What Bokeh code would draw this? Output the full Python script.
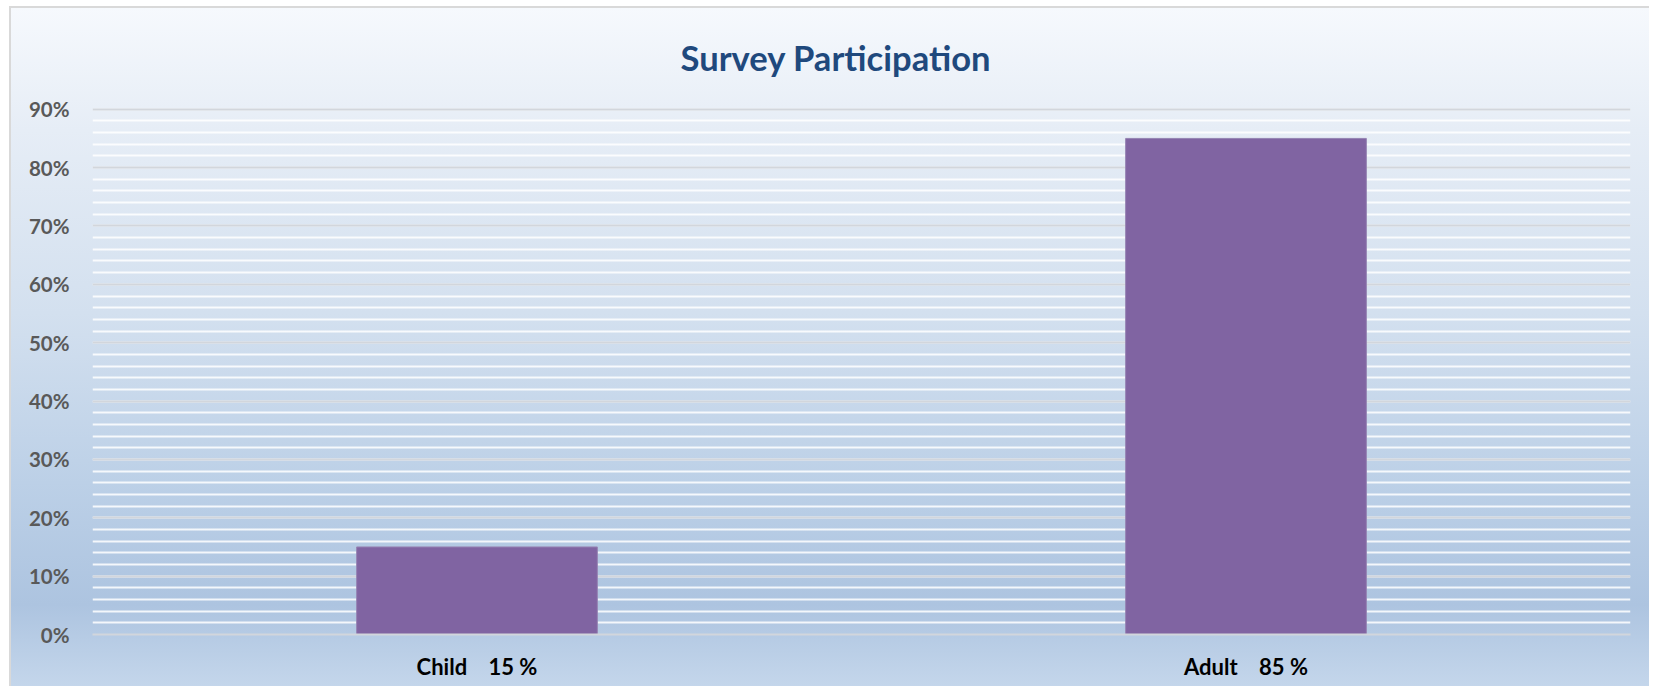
from bokeh.plotting import figure
from bokeh.models import Range1d, FactorRange, SingleIntervalTicker, PrintfTickFormatter
from bokeh.embed import file_html
from bokeh.resources import INLINE

# ---- data ----
categories = ["Child", "Adult"]
values = [15, 85]
y_ticks = [0, 10, 20, 30, 40, 50, 60, 70, 80, 90]
title_text = "Survey Participation"

GAP = "\u00a0" * 4
x_factors = [f"{c}{GAP}{v}\u00a0%" for c, v in zip(categories, values)]

FONT = "Lato"
W, H = 1640, 680
BL, BR, BT, BB = 81, 21, 97, 54

p = figure(
    width=W, height=H,
    x_range=FactorRange(factors=x_factors, range_padding=0),
    y_range=Range1d(y_ticks[0], y_ticks[-1] + 0.3),
    output_backend="svg", toolbar_location=None, tools="",
    min_border_left=BL, min_border_right=BR, min_border_top=BT, min_border_bottom=BB,
    title=title_text,
)
p.styles = {
    "background": "linear-gradient(to bottom, #f6f9fd 0%, #e6edf6 18%, #d3e0ef 45%, #bcd0e7 70%, #adc4e0 88%, #c4d6eb 100%)",
    "border-left": "2px solid #d9d9d9",
    "border-top": "2px solid #d9d9d9",
    "margin-left": "9px",
    "margin-top": "6px",
}
p.background_fill_alpha = 0
p.border_fill_alpha = 0
p.outline_line_color = None

p.title.align = "left"
p.title.offset = 588
p.title.vertical_align = "top"
p.title.standoff = 56
p.title.text_font = FONT
p.title.text_font_size = "34.6px"
p.title.text_font_style = "bold"
p.title.text_color = "#1F497D"

p.vbar(x=x_factors, top=values, width=0.313, fill_color="#8064A2", line_color="#9583b3", line_width=1)

ticker = SingleIntervalTicker(interval=10, num_minor_ticks=5)
p.yaxis.ticker = ticker
p.yaxis.formatter = PrintfTickFormatter(format="%d%%")
p.yaxis.axis_line_color = None
p.yaxis.major_tick_line_color = None
p.yaxis.minor_tick_line_color = None
p.yaxis.major_label_text_font = FONT
p.yaxis.major_label_text_font_style = "bold"
p.yaxis.major_label_text_font_size = "20.5px"
p.yaxis.major_label_text_color = "#595959"
p.yaxis.major_label_standoff = 17

p.ygrid.ticker = ticker
p.ygrid.grid_line_color = "#d2d6dc"
p.ygrid.grid_line_width = 2
p.ygrid.minor_grid_line_color = "#ffffff"
p.ygrid.minor_grid_line_alpha = 0.85
p.ygrid.minor_grid_line_width = 2
p.xgrid.grid_line_color = None

p.xaxis.axis_line_color = "#d2d6dc"
p.xaxis.axis_line_width = 2
p.xaxis.major_tick_line_color = None
p.xaxis.major_tick_out = 0
p.xaxis.major_label_text_font = FONT
p.xaxis.major_label_text_font_style = "bold"
p.xaxis.major_label_text_font_size = "22px"
p.xaxis.major_label_text_color = "#000000"
p.xaxis.major_label_standoff = 18

open("out.html", "w").write(file_html(p, INLINE))
